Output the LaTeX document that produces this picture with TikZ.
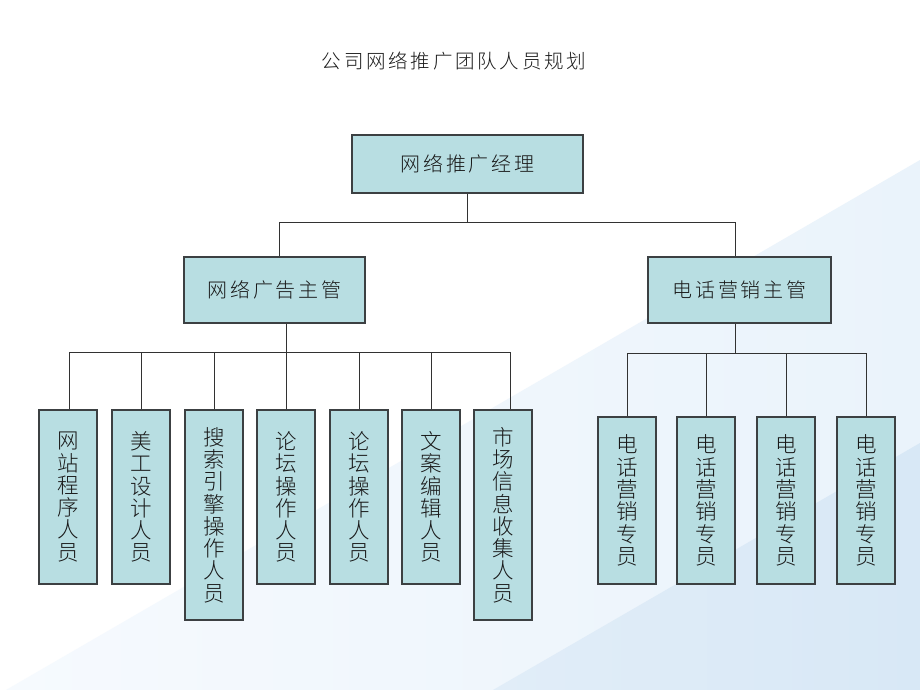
\documentclass[tikz,border=0pt]{standalone}
\usepackage{fontspec}
\newfontfamily\cjk{Noto Sans CJK SC}[UprightFont={* Light}]
\newfontfamily\cjkwide{Noto Sans CJK SC}[UprightFont={* Light},LetterSpace=14]
\definecolor{boxfill}{RGB}{184,222,226}
\definecolor{boxline}{RGB}{60,64,66}
\definecolor{linec}{RGB}{50,50,50}
\definecolor{textc}{RGB}{25,25,25}
\definecolor{bandA}{RGB}{246,250,254}
\definecolor{bandB}{RGB}{234,243,251}
\definecolor{bandC}{RGB}{225,237,248}
\definecolor{bandD}{RGB}{216,232,246}
\begin{document}
\begin{tikzpicture}[x=1pt,y=-1pt,
  box/.style={draw=boxline, line width=1.4pt, fill=boxfill, inner sep=0pt, text=textc},
  hbox/.style={box, font=\cjkwide\fontsize{20}{24}\selectfont},
  vbox/.style={box, align=center, minimum width=58pt, font=\cjk\fontsize{21.5}{22.3}\selectfont},
  link/.style={draw=linec, line width=1pt},
  titletext/.style={text=textc, inner sep=0pt, font=\cjkwide\fontsize{19.5}{22}\selectfont}]
% background
\fill[white] (0,0) rectangle (920,690);
\useasboundingbox (0,0) rectangle (920,690);
\shade[left color=bandA, right color=bandB] (6,690) -- (920,160) -- (920,690) -- cycle;
\shade[left color=bandC, right color=bandD] (493,690) -- (920,443) -- (920,690) -- cycle;

% title
\node[titletext] (title) at (454,61) {公司网络推广团队人员规划};

% top level
\node[hbox, minimum width=231pt, minimum height=58pt] (top) at (467.5,164) {网络推广经理};
\node[hbox, minimum width=181pt, minimum height=66pt] (L) at (274.5,290) {网络广告主管};
\node[hbox, minimum width=183pt, minimum height=66pt] (R) at (739.5,290) {电话营销主管};

% left children
\node[vbox, minimum height=174pt] (k1) at (68,497) {网\\站\\程\\序\\人\\员};
\node[vbox, minimum height=174pt] (k2) at (141,497) {美\\工\\设\\计\\人\\员};
\node[vbox, minimum height=210pt] (k3) at (214,515) {搜\\索\\引\\擎\\操\\作\\人\\员};
\node[vbox, minimum height=174pt] (k4) at (286,497) {论\\坛\\操\\作\\人\\员};
\node[vbox, minimum height=174pt] (k5) at (359,497) {论\\坛\\操\\作\\人\\员};
\node[vbox, minimum height=174pt] (k6) at (431,497) {文\\案\\编\\辑\\人\\员};
\node[vbox, minimum height=210pt] (k7) at (503,515) {市\\场\\信\\息\\收\\集\\人\\员};

% right children
\node[vbox, minimum height=167pt] (r1) at (627,500.5) {电\\话\\营\\销\\专\\员};
\node[vbox, minimum height=167pt] (r2) at (706,500.5) {电\\话\\营\\销\\专\\员};
\node[vbox, minimum height=167pt] (r3) at (786,500.5) {电\\话\\营\\销\\专\\员};
\node[vbox, minimum height=167pt] (r4) at (866,500.5) {电\\话\\营\\销\\专\\员};

% junction coordinates
\coordinate (j0) at (467,222);
\coordinate (jL) at (286,352);
\coordinate (jR) at (735,353);

% connectors: top
\draw[link] ([xshift=-0.5pt]top.south) -- (j0);
\draw[link] ([xshift=4.5pt]L.north) -- ([xshift=4.5pt]L.north |- j0) -- ([xshift=-4.5pt]R.north |- j0) -- ([xshift=-4.5pt]R.north);

% connectors: left group
\draw[link] ([xshift=11.5pt]L.south) -- (jL);
\draw[link] ([xshift=1pt]k1.north |- jL) -- ([xshift=7.5pt]k7.north |- jL);
\draw[link] ([xshift=1pt]k1.north) -- ([xshift=1pt]k1.north |- jL);
\foreach \k in {k2,k3,k4,k5,k6} {
  \draw[link] (\k.north) -- (\k.north |- jL);
}
\draw[link] ([xshift=7.5pt]k7.north) -- ([xshift=7.5pt]k7.north |- jL);

% connectors: right group
\draw[link] ([xshift=-4.5pt]R.south) -- (jR);
\draw[link] (r1.north |- jR) -- (r4.north |- jR);
\foreach \k in {r1,r2,r3,r4} {
  \draw[link] (\k.north) -- (\k.north |- jR);
}
\end{tikzpicture}
\end{document}
